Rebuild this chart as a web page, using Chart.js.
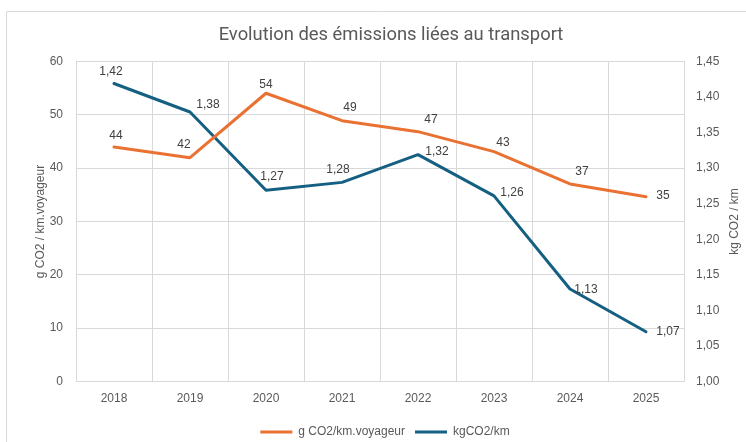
<!DOCTYPE html>
<html>
<head>
<meta charset="utf-8">
<script src="https://cdn.jsdelivr.net/npm/chart.js@4"></script>
<style>
  html, body { margin: 0; padding: 0; background: #ffffff; }
  #wrap { position: relative; width: 746px; height: 442px; }
</style>
</head>
<body>
<div id="wrap"><canvas id="c" width="746" height="442"></canvas></div>
<script>
// ---- data ----
const years = ['2018', '2019', '2020', '2021', '2022', '2023', '2024', '2025'];
const gPerKmVoyageur = [43.97, 41.96, 54.04, 48.9, 46.84, 43.09, 37.03, 34.65];
const kgPerKm = [1.419, 1.379, 1.269, 1.280, 1.319, 1.261, 1.130, 1.070];
const leftTicks = [0, 10, 20, 30, 40, 50, 60];
const rightTicks = [1.00, 1.05, 1.10, 1.15, 1.20, 1.25, 1.30, 1.35, 1.40, 1.45];

const titleText = 'Evolution des émissions liées au transport';
const seriesNames = ['g CO2/km.voyageur', 'kgCO2/km'];
const axisTitles = ['g CO2 / km.voyageur', 'kg CO2 / km'];

// ---- style ----
const ORANGE = '#E97132';
const BLUE = '#156082';
const GRID = '#d9d9d9';
const TICK = '#595959';
const FONT = '"Liberation Sans", Arial, sans-serif';
const TITLE_FONT = 'Roboto, "Liberation Sans", sans-serif';
// label offsets (px) relative to each point, per series
const labelOffsets = [
  [[2, -11], [-6, -13], [0, -9], [8, -13], [13, -12], [9, -9], [12, -12], [17, -1]],
  [[-3, -12], [18, -7], [6, -14], [-4, -13], [19, -3], [18, -3], [16, 1], [22, 0]]
];

const fmt = (v, d) => v.toFixed(d).replace('.', ',');

const decor = {
  id: 'decor',
  afterLayout(chart) {
    const lg = chart.legend;
    if (lg) { lg.left += 12; lg.right += 12; }
    const tb = chart.titleBlock;
    if (tb) { tb.left += 18; tb.right += 18; }
  },
  beforeDraw(chart) {
    const ctx = chart.ctx;
    ctx.save();
    ctx.fillStyle = '#ffffff';
    ctx.fillRect(0, 0, chart.width, chart.height);
    ctx.strokeStyle = GRID;
    ctx.lineWidth = 1;
    ctx.beginPath();
    ctx.moveTo(6.5, chart.height);
    ctx.lineTo(6.5, 11.5);
    ctx.lineTo(chart.width, 11.5);
    ctx.stroke();
    ctx.restore();
  },
  afterDraw(chart) {
    const ctx = chart.ctx;
    ctx.save();
    // right axis title (reads bottom to top)
    const ca = chart.chartArea;
    ctx.translate(735, (ca.top + ca.bottom) / 2);
    ctx.rotate(-Math.PI / 2);
    ctx.font = '12px ' + FONT;
    ctx.fillStyle = TICK;
    ctx.textAlign = 'center';
    ctx.textBaseline = 'middle';
    ctx.fillText(axisTitles[1], 0, 0);
    ctx.restore();

    // data labels
    ctx.save();
    ctx.font = '12px ' + FONT;
    ctx.fillStyle = '#404040';
    ctx.textAlign = 'center';
    ctx.textBaseline = 'middle';
    chart.data.datasets.forEach((ds, di) => {
      const meta = chart.getDatasetMeta(di);
      meta.data.forEach((pt, i) => {
        const v = ds.data[i];
        const txt = di === 0 ? String(Math.round(v)) : fmt(v, 2);
        const o = labelOffsets[di][i];
        ctx.fillText(txt, pt.x + o[0], pt.y + o[1]);
      });
    });
    ctx.restore();
  }
};

new Chart(document.getElementById('c'), {
  type: 'line',
  data: {
    labels: years,
    datasets: [
      {
        label: seriesNames[0], data: gPerKmVoyageur, yAxisID: 'y',
        borderColor: ORANGE, backgroundColor: ORANGE, borderWidth: 3,
        pointRadius: 0, pointHoverRadius: 0, tension: 0,
        borderCapStyle: 'round', borderJoinStyle: 'round'
      },
      {
        label: seriesNames[1], data: kgPerKm, yAxisID: 'y1',
        borderColor: BLUE, backgroundColor: BLUE, borderWidth: 3,
        pointRadius: 0, pointHoverRadius: 0, tension: 0,
        borderCapStyle: 'round', borderJoinStyle: 'round'
      }
    ]
  },
  options: {
    responsive: false,
    animation: false,
    events: [],
    layout: { padding: { left: 0, right: 0, top: 0, bottom: -6 } },
    plugins: {
      tooltip: { enabled: false },
      title: {
        display: true, text: titleText, color: TICK,
        font: { family: TITLE_FONT, size: 18.4, weight: 'normal', lineHeight: 1.2 },
        padding: { top: 24, bottom: 15.4 }
      },
      legend: {
        position: 'bottom',
        labels: {
          color: TICK, font: { family: FONT, size: 12 },
          boxWidth: 32, boxHeight: 3, padding: 10,
          generateLabels(chart) {
            return chart.data.datasets.map((ds, i) => ({
              text: ds.label, fillStyle: ds.borderColor, strokeStyle: ds.borderColor,
              lineWidth: 0, hidden: false, datasetIndex: i, fontColor: TICK
            }));
          }
        }
      }
    },
    scales: {
      x: {
        offset: true,
        grid: { offset: true, color: GRID, drawTicks: false },
        border: { color: GRID },
        ticks: { color: TICK, font: { family: FONT, size: 12 }, padding: 10, maxRotation: 0 },
        afterFit(s) { s.height = 34.5; }
      },
      y: {
        position: 'left', min: 0, max: 60,
        afterBuildTicks(s) { s.ticks = leftTicks.map(v => ({ value: v })); },
        grid: { color: GRID, drawTicks: false },
        border: { color: GRID },
        ticks: { color: TICK, font: { family: FONT, size: 12 }, padding: 13 },
        title: {
          display: true, text: axisTitles[0], color: TICK,
          font: { family: FONT, size: 12 }, padding: { top: 33, bottom: 0 }
        },
        afterFit(s) { s.width = 76; }
      },
      y1: {
        position: 'right', min: 1, max: 1.45,
        afterBuildTicks(s) { s.ticks = rightTicks.map(v => ({ value: v })); },
        grid: { drawOnChartArea: false, drawTicks: false },
        border: { color: GRID },
        ticks: { color: TICK, font: { family: FONT, size: 12 }, padding: 12,
          callback: v => fmt(v, 2) },
        afterFit(s) { s.width = 62; }
      }
    }
  },
  plugins: [decor]
});
</script>
</body>
</html>
